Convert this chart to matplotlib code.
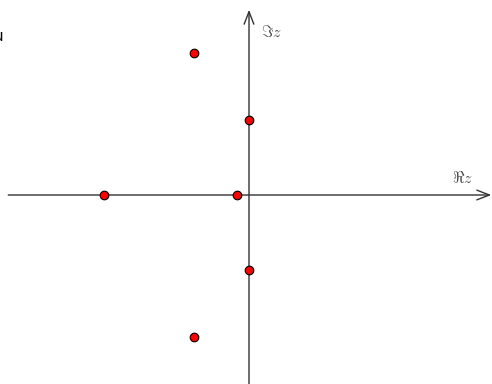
import matplotlib
matplotlib.use("Agg")
import matplotlib.pyplot as plt

plt.rcParams["mathtext.fontset"] = "cm"

# Zeros in the complex plane
re_parts = [-1.93, -0.16, 0.0, 0.0, -0.73, -0.73]
im_parts = [0.0, 0.0, 1.0, -1.0, 1.89, -1.89]

axis_labels = [r"$\Re z$", r"$\Im z$"]

fig = plt.figure(figsize=(4.92, 3.84), dpi=100)
ax = fig.add_axes([0, 0, 1, 1])
ax.set_xlim(-3.32, 3.24)
ax.set_ylim(-2.52, 2.60)
ax.axis("off")

axis_color = "#333333"
arrow = dict(arrowstyle="->,head_length=0.9,head_width=0.35", color=axis_color,
             lw=1.0, shrinkA=0, shrinkB=0)
ax.annotate("", xy=(3.23, 0), xytext=(-3.21, 0), arrowprops=arrow)
ax.annotate("", xy=(0, 2.47), xytext=(0, -2.52), arrowprops=arrow)

ax.text(2.85, 0.12, axis_labels[0], fontsize=11.5, color="#444444",
        ha="center", va="bottom")
ax.text(0.16, 2.17, axis_labels[1], fontsize=11.5, color="#444444",
        ha="left", va="center")

ax.plot(re_parts, im_parts, "o", color="red", markeredgecolor="black",
        markeredgewidth=0.8, markersize=6.2, linestyle="none", zorder=5)

# caption glyph running past the left margin
fig.text(-0.013, 0.905, "u", fontsize=11, color="black", ha="left", va="center")

fig.savefig("out.png", dpi=100)
